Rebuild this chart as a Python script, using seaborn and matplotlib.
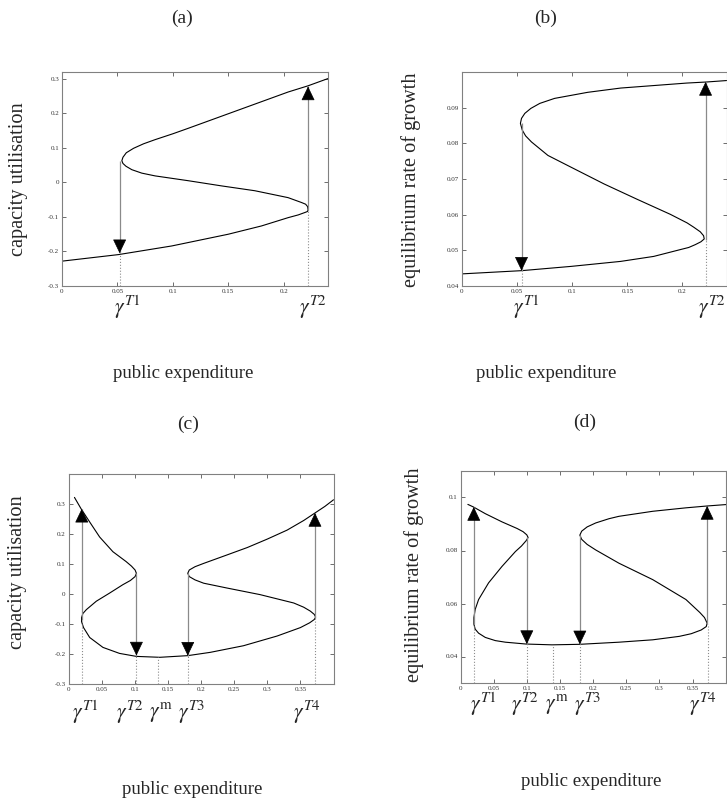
import numpy as np
import pandas as pd
import seaborn as sns
import matplotlib
matplotlib.use("Agg")
import matplotlib.pyplot as plt

# ---- data ----
# (a) capacity utilisation vs public expenditure
A_X = [0.000, 0.051, 0.099, 0.150, 0.180, 0.204, 0.2132, 0.2192, 0.2216, 0.222, 0.2216,
       0.2198, 0.216, 0.204, 0.174, 0.144, 0.114, 0.084, 0.072, 0.063, 0.0577, 0.055,
       0.054, 0.055, 0.058, 0.0646, 0.0736, 0.084, 0.100, 0.114, 0.144, 0.174, 0.204,
       0.222, 0.240]
A_Y = [-0.228, -0.209, -0.184, -0.150, -0.126, -0.102, -0.094, -0.087, -0.084, -0.079,
       -0.070, -0.063, -0.058, -0.044, -0.024, -0.010, 0.005, 0.019, 0.027, 0.037, 0.047,
       0.055, 0.063, 0.073, 0.086, 0.099, 0.112, 0.124, 0.141, 0.157, 0.192, 0.227,
       0.262, 0.280, 0.301]
A_ARROWS = [(0.052, 0.063, -0.205), (0.222, -0.080, 0.278)]
A_GAMMA = [0.052, 0.222]
A_GAMMA_TOP = [-0.205, -0.080]
A_LABEL_X = [0.0586, 0.226]
A_LABELS = [r"$\gamma^{T1}$", r"$\gamma^{T2}$"]

# (b) equilibrium rate of growth vs public expenditure
B_X = [0.000, 0.054, 0.099, 0.144, 0.174, 0.198, 0.2057, 0.2117, 0.2168, 0.2198, 0.2192,
       0.2162, 0.2102, 0.2042, 0.189, 0.159, 0.129, 0.099, 0.078, 0.063, 0.0577, 0.0547,
       0.053, 0.054, 0.057, 0.0625, 0.0706, 0.084, 0.114, 0.144, 0.174, 0.204, 0.222,
       0.240]
B_Y = [0.0434, 0.0443, 0.0455, 0.0469, 0.0483, 0.0502, 0.0508, 0.0516, 0.0524, 0.0532,
       0.0541, 0.0552, 0.0565, 0.0577, 0.0601, 0.0643, 0.0686, 0.0733, 0.0766, 0.0804,
       0.0821, 0.0837, 0.0856, 0.0870, 0.0884, 0.0898, 0.0912, 0.0926, 0.0943, 0.0955,
       0.0962, 0.0969, 0.0972, 0.0976]
B_ARROWS = [(0.054, 0.0856, 0.0443), (0.221, 0.0530, 0.0972)]
B_GAMMA = [0.054, 0.221]
B_GAMMA_TOP = [0.0443, 0.0530]
B_LABEL_X = [0.0586, 0.2268]
B_LABELS = [r"$\gamma^{T1}$", r"$\gamma^{T2}$"]

# (c) capacity utilisation, two-fold case
C_X = [0.009, 0.019, 0.032, 0.047, 0.067, 0.087, 0.095, 0.1005, 0.1025, 0.1005, 0.0934,
       0.082, 0.062, 0.042, 0.027, 0.0217, 0.0197, 0.0197, 0.0227, 0.032, 0.052, 0.077,
       0.1025, 0.138, 0.180, 0.214, 0.264, 0.315, 0.350, 0.364, 0.371, 0.373, 0.371,
       0.365, 0.355, 0.340, 0.289, 0.239, 0.204, 0.191, 0.1823, 0.180, 0.1823, 0.191,
       0.204, 0.239, 0.270, 0.300, 0.330, 0.355, 0.372, 0.387, 0.400]
C_Y = [0.322, 0.284, 0.240, 0.190, 0.141, 0.108, 0.093, 0.080, 0.069, 0.058, 0.045,
       0.031, 0.003, -0.024, -0.052, -0.065, -0.079, -0.092, -0.112, -0.145, -0.178,
       -0.198, -0.208, -0.211, -0.2055, -0.1945, -0.1725, -0.140, -0.112, -0.096, -0.085,
       -0.077, -0.068, -0.057, -0.044, -0.030, -0.002, 0.020, 0.036, 0.047, 0.058, 0.069,
       0.080, 0.091, 0.102, 0.130, 0.155, 0.183, 0.213, 0.245, 0.270, 0.292, 0.314]
C_ARROWS = [(0.020, -0.085, 0.284), (0.1025, 0.069, -0.205),
            (0.180, 0.069, -0.2055), (0.372, -0.079, 0.270)]
C_GAMMA = [0.020, 0.1025, 0.135, 0.180, 0.372]
C_GAMMA_TOP = [-0.085, -0.208, -0.211, -0.206, -0.079]
C_LABEL_X = [0.025, 0.092, 0.139, 0.186, 0.360]
C_LABELS = [r"$\gamma^{T1}$", r"$\gamma^{T2}$", r"$\gamma^{\rm m}$",
            r"$\gamma^{T3}$", r"$\gamma^{T4}$"]

# (d) equilibrium rate of growth, two-fold case
D_X = [0.0111, 0.0197, 0.0374, 0.0626, 0.0854, 0.0944, 0.100, 0.102, 0.099, 0.092,
       0.0828, 0.0626, 0.0424, 0.0273, 0.0222, 0.0202, 0.0202, 0.0222, 0.0273, 0.0374,
       0.0525, 0.0677, 0.099, 0.138, 0.180, 0.239, 0.290, 0.330, 0.348, 0.363, 0.3707,
       0.372, 0.368, 0.361, 0.340, 0.290, 0.239, 0.204, 0.191, 0.1828, 0.180, 0.1828,
       0.191, 0.204, 0.224, 0.239, 0.290, 0.340, 0.372, 0.404]
D_Y = [0.0974, 0.0964, 0.0939, 0.0908, 0.0883, 0.0871, 0.0859, 0.0849, 0.0837, 0.0817,
       0.0796, 0.0740, 0.0678, 0.0615, 0.0578, 0.0547, 0.0522, 0.0503, 0.0488, 0.0472,
       0.0460, 0.0454, 0.0447, 0.0444, 0.0446, 0.0454, 0.0463, 0.0476, 0.0486, 0.0500,
       0.0513, 0.0526, 0.0547, 0.0566, 0.0615, 0.0690, 0.0752, 0.0802, 0.0823, 0.0842,
       0.0858, 0.0873, 0.0889, 0.0904, 0.0920, 0.0929, 0.0948, 0.0961, 0.0968, 0.0974]
D_ARROWS = [(0.020, 0.0522, 0.0964), (0.100, 0.0850, 0.0447),
            (0.180, 0.0858, 0.0446), (0.372, 0.0522, 0.0968)]
D_GAMMA = [0.020, 0.100, 0.140, 0.180, 0.373]
D_GAMMA_TOP = [0.0522, 0.0447, 0.0444, 0.0446, 0.0522]
D_LABEL_X = [0.035, 0.097, 0.145, 0.191, 0.366]
D_LABELS = C_LABELS

X_TICKS_TOP = [0, 0.05, 0.1, 0.15, 0.2]
X_TICKS_BOT = [0, 0.05, 0.1, 0.15, 0.2, 0.25, 0.3, 0.35]
Y_TICKS_CU = [-0.3, -0.2, -0.1, 0, 0.1, 0.2, 0.3]
Y_TICKS_B = [0.04, 0.05, 0.06, 0.07, 0.08, 0.09]
Y_TICKS_D = [0.04, 0.06, 0.08, 0.1]

W, H = 727, 808


def setup_style():
    sns.set_theme(style="ticks")
    plt.rcParams['font.family'] = ['Liberation Serif', 'DejaVu Serif']
    plt.rcParams['mathtext.fontset'] = 'stix'
    plt.rcParams['axes.unicode_minus'] = False


def px_axes(fig, left, top, right, bottom):
    return fig.add_axes([left / W, 1 - bottom / H, (right - left) / W, (bottom - top) / H])


def draw_panel(ax, xs, ys, xlim, ylim, xticks, yticks, arrows, gammas, tops,
               label_x, labels, label_y):
    df = pd.DataFrame({'x': xs, 'y': ys})
    sns.lineplot(data=df, x='x', y='y', sort=False, estimator=None,
                 color='black', lw=0.8, ax=ax)
    for gx, top in zip(gammas, tops):
        ax.vlines(gx, ylim[0], top, colors='#8c8c8c', linestyles=':', lw=0.8)
    for x, y0, y1 in arrows:
        # grey shaft, solid black head
        ax.vlines(x, y0, y1, colors='#8a8a8a', lw=0.9)
        back = -5 if y1 > y0 else 5
        ax.annotate('', xy=(x, y1), xytext=(0, back), textcoords='offset points',
                    arrowprops=dict(arrowstyle='-|>,head_length=0.75,head_width=0.36',
                                    fc='black', ec='black', lw=0.5,
                                    shrinkA=0, shrinkB=0))
    for lx, lab in zip(label_x, labels):
        ax.text(lx, label_y, lab, transform=ax.get_xaxis_transform(),
                ha='center', va='center', fontsize=15.5)
    ax.set_xlim(*xlim)
    ax.set_ylim(*ylim)
    ax.set_xticks(xticks)
    ax.set_xticklabels(['%g' % v for v in xticks])
    ax.set_yticks(yticks)
    ax.set_yticklabels(['%g' % v for v in yticks])
    ax.set_xlabel('')
    ax.set_ylabel('')
    ax.tick_params(direction='in', length=3, width=0.6, color='#555555',
                   labelsize=5, labelcolor='#333333', top=True, right=True, pad=2)
    for sp in ax.spines.values():
        sp.set_color('#808080')
        sp.set_linewidth(0.8)


def main():
    setup_style()
    fig = plt.figure(figsize=(W / 100, H / 100), dpi=100)

    ax_a = px_axes(fig, 62, 72, 328, 286)
    draw_panel(ax_a, A_X, A_Y, (0, 0.24), (-0.3, 0.32), X_TICKS_TOP, Y_TICKS_CU,
               A_ARROWS, A_GAMMA, A_GAMMA_TOP, A_LABEL_X, A_LABELS, -0.10)

    ax_b = px_axes(fig, 462, 72, 726.5, 286)
    draw_panel(ax_b, B_X, B_Y, (0, 0.24), (0.04, 0.1), X_TICKS_TOP, Y_TICKS_B,
               B_ARROWS, B_GAMMA, B_GAMMA_TOP, B_LABEL_X, B_LABELS, -0.10)

    ax_c = px_axes(fig, 68.5, 474, 333.5, 684)
    draw_panel(ax_c, C_X, C_Y, (0, 0.4), (-0.3, 0.4), X_TICKS_BOT, Y_TICKS_CU,
               C_ARROWS, C_GAMMA, C_GAMMA_TOP, C_LABEL_X, C_LABELS, -0.135)

    ax_d = px_axes(fig, 460.5, 471, 725.7, 683)
    draw_panel(ax_d, D_X, D_Y, (0, 0.4), (0.03, 0.11), X_TICKS_BOT, Y_TICKS_D,
               D_ARROWS, D_GAMMA, D_GAMMA_TOP, D_LABEL_X, D_LABELS, -0.10)

    # panel titles, axis titles
    for x, y, s in [(182, 18, '(a)'), (546, 18, '(b)'), (188.5, 424, '(c)'), (585, 422, '(d)')]:
        fig.text(x / W, 1 - y / H, s, ha='center', va='center', fontsize=14)
    for x, y in [(183, 373), (546, 373), (192.5, 790), (591.5, 782)]:
        fig.text(x / W, 1 - y / H, 'public expenditure', ha='center', va='center', fontsize=13.5)
    for x, y, s in [(18.5, 179, 'capacity utilisation'), (411, 179.5, 'equilibrium rate of growth'),
                    (17.5, 572, 'capacity utilisation'), (414, 575, 'equilibrium rate of growth')]:
        fig.text(x / W, 1 - y / H, s, ha='center', va='center', rotation=90, fontsize=14.6)

    fig.savefig('out.png', dpi=100)
    plt.close(fig)


if __name__ == "__main__":
    main()
